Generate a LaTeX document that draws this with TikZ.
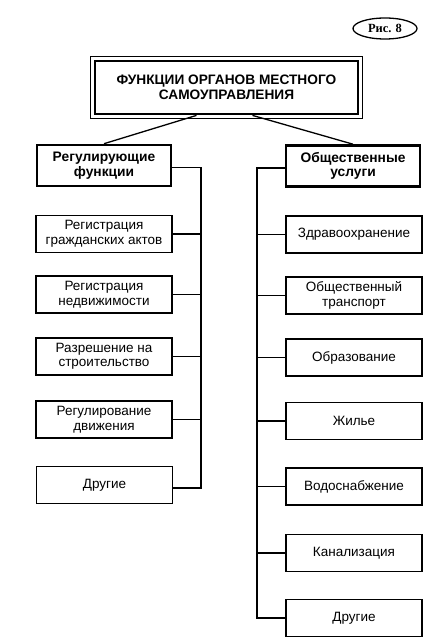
\documentclass[tikz,border=0pt]{standalone}
\usepackage{fontspec}
\setmainfont{Liberation Sans}
\newfontfamily\serifbold{Liberation Serif}
\usetikzlibrary{shapes.geometric}
\begin{document}
\begin{tikzpicture}[x=1pt,y=-1pt,
  every node/.style={font=\fontsize{13.5}{14.5}\selectfont, align=center, inner sep=0pt},
  box/.style={draw, line width=1.3pt, minimum width=136pt, minimum height=37pt},
  headbox/.style={draw, line width=2.6pt, minimum width=134pt, minimum height=41pt, font=\fontsize{13.8}{14.5}\selectfont\bfseries},
  conn/.style={line width=1.3pt}]
\useasboundingbox (0,0) rectangle (436,644);
\fill[white] (0,0) rectangle (436,644);
% figure label
\node[draw, ellipse, line width=1.3pt, minimum width=64pt, minimum height=21pt, font=\serifbold\fontsize{12.5}{13}\selectfont\bfseries] (fig) at (385,28.5) {Рис. 8};
% top box
\node[draw, line width=2.8pt, minimum width=263pt, minimum height=53pt, font=\fontsize{13.7}{15}\selectfont\bfseries] (top) at (226.5,87.5) {ФУНКЦИИ ОРГАНОВ МЕСТНОГО\\САМОУПРАВЛЕНИЯ};
\draw[line width=0.9pt] ([xshift=-3pt,yshift=3pt]top.north west) rectangle ([xshift=3pt,yshift=-3pt]top.south east);
% headers
\node[headbox] (lh) at (104,165.5) {Регулирующие\\функции};
\node[headbox] (rh) at (353,166) {Общественные\\услуги};
\draw[conn] ([xshift=-30pt]top.south) -- (lh.north);
\draw[conn] ([xshift=26pt]top.south) -- (rh.north);
% spines
\coordinate (sL) at (201,0);
\coordinate (sR) at (257,0);
% left boxes
\node[box] (l1) at (104,234) {Регистрация\\гражданских актов};
\node[box] (l2) at (104,294.5) {Регистрация\\недвижимости};
\node[box] (l3) at (104,356.5) {Разрешение на\\строительство};
\node[box] (l4) at (104,419.5) {Регулирование\\движения};
\node[box] (l5) at (104.5,485) {Другие};
% right boxes
\node[box] (r1) at (354,234.5) {Здравоохранение};
\node[box] (r2) at (354,295.5) {Общественный\\транспорт};
\node[box] (r3) at (354,357.5) {Образование};
\node[box] (r4) at (354,421) {Жилье};
\node[box] (r5) at (354,486.5) {Водоснабжение};
\node[box] (r6) at (354,553) {Канализация};
\node[box] (r7) at (354,618) {Другие};
% left connectors
\draw[conn] ([yshift=-2pt]lh.east) -- ([yshift=-2pt]lh.east -| sL) -- ([yshift=-3pt]l5.east -| sL) -- ([yshift=-3pt]l5.east);
\foreach \n in {l1,l2,l3,l4}{\draw[conn] (\n.east) -- (\n.east -| sL);}
% right connectors
\draw[conn] ([yshift=-2pt]rh.west) -- ([yshift=-2pt]rh.west -| sR) -- (r7.west -| sR) -- (r7.west);
\foreach \n in {r1,r2,r3,r4,r5,r6}{\draw[conn] (\n.west) -- (\n.west -| sR);}
\end{tikzpicture}
\end{document}
